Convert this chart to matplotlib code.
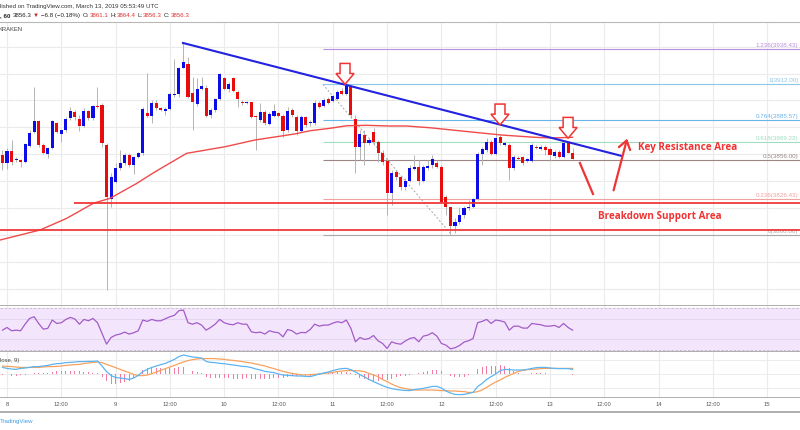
import numpy as np
import matplotlib
matplotlib.use('Agg')
import matplotlib.pyplot as plt
from matplotlib.patches import Polygon

plt.rcParams['font.family'] = ['Liberation Sans', 'DejaVu Sans']

# hourly candles, hour index from Mar 8 00:00 (XBTUSD, Kraken, 60)
hours = np.arange(-1, 126)
opens = [3859.5, 3853.7, 3862.7, 3855.7, 3855.7, 3854.3, 3866.4, 3876.8, 3884.7, 3866.7,
         3860.0, 3864.9, 3883.0, 3875.1, 3878.0, 3886.7, 3891.4, 3886.2, 3881.2, 3892.2,
         3887.2, 3895.9, 3896.6, 3867.1, 3826.8, 3839.6, 3849.6, 3853.3, 3859.5, 3852.0,
         3857.7, 3860.7, 3890.9, 3888.4, 3898.3, 3894.2, 3892.2, 3893.6, 3904.0, 3904.6,
         3924.3, 3926.9, 3905.3, 3897.1, 3908.5, 3909.0, 3889.2, 3892.9, 3901.1, 3916.5,
         3908.5, 3916.5, 3906.1, 3899.1, 3898.3, 3898.6, 3888.2, 3885.5, 3891.2, 3882.3,
         3888.7, 3890.4, 3888.7, 3878.0, 3892.9, 3887.5, 3877.5, 3887.5, 3883.0, 3883.5,
         3898.3, 3895.9, 3901.1, 3899.8, 3900.9, 3907.2, 3904.8, 3910.2, 3886.0, 3865.2,
         3874.3, 3868.6, 3876.8, 3869.3, 3861.2, 3855.2, 3831.0, 3846.6, 3842.9, 3835.5,
         3840.4, 3849.3, 3850.3, 3840.4, 3849.6, 3852.0, 3853.7, 3850.8, 3828.5, 3820.6,
         3806.7, 3809.9, 3814.9, 3819.8, 3821.0, 3826.5, 3860.2, 3863.2, 3869.3, 3860.2,
         3872.6, 3867.1, 3866.9, 3849.6, 3857.4, 3857.7, 3855.2, 3855.2, 3865.6, 3863.7,
         3865.6, 3863.7, 3858.7, 3861.9, 3858.2, 3868.2, 3861.1]
highs = [3863.2, 3864.4, 3870.6, 3858.0, 3856.7, 3868.2, 3878.0, 3910.2, 3885.5, 3868.2,
         3865.6, 3885.5, 3884.2, 3879.0, 3887.9, 3895.4, 3892.9, 3889.2, 3894.2, 3892.9,
         3896.6, 3910.2, 3897.9, 3868.2, 3845.9, 3853.3, 3863.2, 3860.7, 3860.7, 3858.7,
         3861.9, 3895.4, 3920.2, 3900.3, 3900.3, 3895.1, 3895.4, 3906.5, 3930.8, 3925.1,
         3943.0, 3932.0, 3917.6, 3916.5, 3917.6, 3911.5, 3894.2, 3901.6, 3920.2, 3917.6,
         3914.0, 3917.6, 3907.8, 3900.3, 3899.8, 3899.1, 3889.2, 3897.9, 3892.9, 3891.2,
         3897.1, 3891.6, 3889.7, 3895.4, 3894.4, 3889.2, 3889.2, 3888.4, 3885.5, 3900.3,
         3899.6, 3901.8, 3902.6, 3904.0, 3907.8, 3909.3, 3912.0, 3911.5, 3889.2, 3878.0,
         3878.0, 3872.1, 3879.5, 3870.6, 3863.2, 3857.2, 3848.3, 3848.3, 3844.6, 3842.4,
         3852.0, 3859.5, 3855.7, 3852.0, 3855.7, 3859.5, 3855.7, 3852.0, 3829.7, 3821.0,
         3812.6, 3821.0, 3821.6, 3826.0, 3827.5, 3861.7, 3865.6, 3871.9, 3870.6, 3880.5,
         3874.3, 3869.1, 3868.2, 3859.5, 3858.7, 3858.7, 3857.2, 3868.2, 3866.9, 3866.9,
         3866.9, 3865.6, 3863.2, 3863.2, 3869.3, 3869.3, 3864.4]
lows = [3848.3, 3848.8, 3852.0, 3854.3, 3850.8, 3853.3, 3865.6, 3875.6, 3865.6, 3860.2,
        3857.0, 3864.1, 3875.6, 3869.3, 3876.8, 3885.5, 3885.5, 3877.5, 3880.5, 3885.5,
        3885.5, 3894.2, 3865.6, 3759.1, 3821.0, 3838.4, 3848.3, 3852.0, 3850.8, 3845.3,
        3857.0, 3859.5, 3887.9, 3883.0, 3892.9, 3892.2, 3889.2, 3892.9, 3902.8, 3902.8,
        3923.9, 3901.6, 3878.0, 3896.1, 3907.8, 3887.9, 3886.7, 3891.6, 3900.3, 3907.8,
        3906.0, 3906.3, 3895.4, 3896.6, 3897.6, 3887.2, 3863.2, 3884.2, 3881.8, 3881.8,
        3887.9, 3887.9, 3873.1, 3876.8, 3887.5, 3874.3, 3876.5, 3880.3, 3881.0, 3881.8,
        3894.4, 3895.1, 3897.4, 3898.8, 3900.3, 3904.0, 3904.0, 3887.0, 3846.1, 3855.7,
        3852.0, 3866.9, 3866.9, 3854.3, 3852.0, 3814.9, 3822.3, 3840.9, 3833.4, 3833.4,
        3839.4, 3848.3, 3837.2, 3839.4, 3848.3, 3849.8, 3849.8, 3823.8, 3814.9, 3800.0,
        3801.3, 3808.2, 3812.6, 3818.6, 3820.0, 3826.0, 3852.0, 3861.9, 3859.5, 3859.5,
        3866.9, 3866.1, 3840.9, 3848.3, 3855.7, 3852.0, 3854.3, 3854.5, 3863.9, 3863.2,
        3859.5, 3855.2, 3857.2, 3857.2, 3857.2, 3860.7, 3856.3]
closes = [3853.3, 3862.7, 3854.0, 3856.7, 3854.3, 3867.4, 3876.0, 3884.7, 3866.9, 3860.7,
          3864.9, 3884.7, 3876.5, 3878.0, 3886.0, 3892.2, 3887.9, 3881.0, 3892.2, 3887.0,
          3895.9, 3895.1, 3868.6, 3828.5, 3843.3, 3850.0, 3853.3, 3859.5, 3852.0, 3857.7,
          3860.7, 3893.4, 3888.4, 3897.9, 3894.2, 3892.9, 3893.6, 3904.6, 3904.8, 3923.9,
          3928.4, 3902.8, 3899.1, 3908.5, 3911.0, 3888.7, 3892.9, 3900.9, 3919.7, 3908.5,
          3912.0, 3907.0, 3901.1, 3898.3, 3898.8, 3887.9, 3887.5, 3891.6, 3883.0, 3889.7,
          3892.2, 3888.7, 3877.3, 3892.4, 3889.2, 3877.5, 3887.5, 3881.8, 3884.2, 3898.3,
          3895.4, 3900.3, 3898.3, 3903.3, 3906.5, 3904.8, 3910.7, 3889.2, 3865.2, 3875.1,
          3868.6, 3870.6, 3869.3, 3861.2, 3854.5, 3831.0, 3845.9, 3842.9, 3835.9, 3840.4,
          3849.6, 3850.3, 3840.4, 3850.3, 3851.3, 3856.3, 3850.8, 3824.7, 3820.6, 3806.7,
          3809.9, 3814.9, 3819.8, 3821.0, 3826.5, 3860.2, 3863.7, 3869.3, 3860.2, 3871.9,
          3868.2, 3868.2, 3849.6, 3858.2, 3856.7, 3853.7, 3856.3, 3866.9, 3864.9, 3865.6,
          3863.2, 3859.5, 3861.9, 3858.2, 3868.2, 3861.2, 3856.3]

# moving average
ma_hours = [-1.5, 7.3, 13.2, 19.1, 22.8, 28.7, 31.6, 33.4, 39.7, 48.2, 54.8, 63.6,
            67.0, 71.4, 75.1, 79.5, 84.6, 88.3, 93.5, 101.9, 109.3, 116.7, 120.4, 125.0]
ma_values = [3796.3, 3803.7, 3812.4, 3823.6, 3827.3, 3838.4, 3844.6, 3848.3, 3860.7,
             3865.6, 3870.6, 3875.1, 3877.5, 3879.3, 3881.2, 3881.5, 3881.0, 3881.0,
             3879.7, 3876.8, 3874.3, 3872.6, 3872.1, 3872.6]

rsi = [48.8, 51.4, 48.2, 48.8, 48.2, 54.6, 60.2, 61.8, 55.3, 49.8, 50.5, 58.6, 55.3, 56.0,
       59.2, 61.2, 59.6, 54.6, 59.2, 57.9, 60.2, 56.0, 45.6, 35.2, 41.7, 44.0, 45.0, 46.9,
       45.0, 46.3, 48.2, 58.6, 57.3, 59.2, 57.9, 57.9, 59.9, 61.8, 63.2, 67.7, 68.3, 56.0,
       54.6, 56.0, 53.7, 48.8, 51.4, 54.6, 59.2, 56.0, 54.6, 54.0, 56.0, 54.6, 54.6, 47.2,
       46.3, 46.9, 45.0, 48.2, 46.9, 46.3, 42.3, 49.4, 48.2, 45.0, 46.6, 46.3, 49.4, 54.6,
       52.7, 53.7, 53.7, 55.6, 57.0, 56.0, 58.6, 50.5, 37.5, 41.7, 39.8, 40.7, 43.6, 38.5,
       35.9, 31.0, 37.5, 35.9, 35.2, 38.2, 40.7, 41.7, 37.5, 43.0, 44.0, 46.3, 43.0, 35.9,
       34.3, 30.7, 31.7, 33.9, 37.2, 38.5, 40.7, 56.0, 57.3, 59.2, 55.3, 58.6, 57.9, 56.6,
       48.8, 52.7, 52.7, 50.8, 50.8, 55.3, 54.6, 54.0, 52.7, 52.7, 53.4, 51.4, 55.3, 51.4,
       48.8]

macd = [3.3, 2.8, 2.5, 2.3, 2.8, 3.0, 3.3, 3.7, 3.7, 4.0, 4.3, 4.8, 5.2, 5.3, 5.7, 5.8,
        6.0, 6.2, 6.2, 6.3, 6.3, 6.5, 4.0, 1.2, -0.8, -1.7, -2.0, -2.3, -2.7, -2.0, -0.7,
        1.2, 2.3, 3.3, 4.0, 4.7, 5.3, 6.3, 7.3, 8.7, 9.5, 9.0, 8.5, 8.3, 8.0, 6.3, 5.8, 5.7,
        5.3, 5.2, 4.8, 4.5, 4.2, 3.8, 3.7, 3.2, 2.5, 2.0, 1.3, 1.0, 0.7, 0.0, -0.5, -0.7,
        -0.8, -1.0, -1.0, -1.2, -1.3, -0.7, 0.0, 0.5, 1.0, 1.7, 2.3, 2.7, 2.8, 2.2, 1.0,
        -0.3, -1.5, -2.7, -3.8, -4.8, -5.8, -6.7, -7.3, -7.7, -8.0, -8.2, -8.3, -7.8, -7.5,
        -7.2, -6.7, -6.2, -6.2, -7.0, -8.5, -9.5, -10.2, -10.3, -10.2, -9.7, -9.2, -6.3,
        -4.7, -2.7, -1.3, 0.0, 1.7, 2.3, 2.2, 2.0, 2.0, 2.0, 2.3, 2.8, 3.2, 3.3, 3.3, 3.0,
        2.8, 2.7, 2.7, 2.7, 2.3]
signal = [4.0, 3.8, 3.7, 3.5, 3.3, 3.3, 3.3, 3.3, 3.3, 3.5, 3.7, 3.7, 3.8, 4.0, 4.3, 4.5,
          4.7, 4.8, 5.2, 5.5, 5.8, 6.0, 5.7, 4.8, 4.0, 3.2, 2.3, 1.5, 0.7, -0.2, -0.8, -0.8,
          -0.5, 0.2, 1.0, 1.8, 2.7, 3.5, 4.3, 5.2, 6.0, 6.7, 7.2, 7.5, 7.7, 7.7, 7.7, 7.7,
          7.5, 7.3, 7.0, 6.8, 6.5, 6.2, 5.8, 5.5, 5.0, 4.5, 4.0, 3.3, 2.7, 2.0, 1.3, 0.8,
          0.3, 0.0, -0.5, -0.5, -0.3, -0.2, 0.0, 0.3, 0.5, 0.8, 1.2, 1.5, 1.7, 1.7, 1.7, 1.5,
          1.2, 0.3, -0.5, -1.3, -2.8, -3.8, -5.0, -6.0, -6.8, -7.3, -7.7, -8.0, -8.0, -8.0,
          -8.0, -8.0, -8.2, -8.3, -8.3, -8.5, -8.5, -8.7, -8.8, -9.2, -9.2, -8.8, -8.0, -6.7,
          -5.3, -4.0, -3.0, -1.7, -0.7, 0.3, 1.3, 1.8, 2.2, 2.3, 2.5, 2.7, 2.8, 2.8, 2.8,
          2.8, 2.8, 2.8, 2.8]

tick_hours = [0, 12, 24, 36, 48, 60, 72, 84, 96, 108, 120, 132, 144, 156, 168]
tick_labels = ['8', '12:00', '9', '12:00', '10', '12:00', '11', '12:00', '12',
               '12:00', '13', '12:00', '14', '12:00', '15']

fib_low, fib_high = 3800.0, 3912.0
fib_levels = [1.236, 1, 0.764, 0.618, 0.5, 0.236, 0]
fib_colors = ['#bb8fe0', '#8cc8e8', '#6ab4ec', '#9fdcc0', '#9b8585', '#f2a0a0', '#a8a8a8']
fib_start = 69.8

trend_hours = [38.9, 135.9]
trend_prices = [3942.7, 3858.7]
support_levels = [3823.6, 3803.7]
support_starts = [14.8, None]

marker_hours = [74.7, 108.95, 124.0]      # hollow down arrows, tip positions
marker_tips = [3912.0, 3881.8, 3871.9]

header_pieces = [', 60', '3856.3', '\u25bc', '\u22126.8 (\u22120.18%)', 'O:', '3861.1',
                 'H:', '3864.4', 'L:', '3856.3', 'C:', '3856.3']
piece_colors = ['#222222', '#222222', '#c62828', '#222222', '#222222', '#e03030',
                '#222222', '#e03030', '#222222', '#e03030', '#222222', '#e03030']
piece_gaps = [0, 2.0, 2.0, 2.0, 2.0, 0.4, 2.0, 0.4, 2.0, 0.4, 2.0, 0.4]   # pixels

XMIN, XMAX = -1.547, 175.25
RED = '#f03333'
W, H = 800, 430

fig = plt.figure(figsize=(8, 4.3), dpi=100)
ax = fig.add_axes([0, 0.2895, 1, 0.66])
ax_rsi = fig.add_axes([0, 0.1821, 1, 0.1074])
ax_macd = fig.add_axes([0, 0.0737, 1, 0.1084])
ax_time = fig.add_axes([0, 0.0426, 1, 0.0311])

for a in (ax, ax_rsi, ax_macd, ax_time):
    a.set_xlim(XMIN, XMAX)
    a.set_xticks([])
    a.set_yticks([])
    for sp in a.spines.values():
        sp.set_visible(False)
    a.spines['bottom'].set_visible(True)
    a.spines['bottom'].set_color('#a8a8a8')
    a.spines['bottom'].set_linewidth(1.3)
ax.spines['top'].set_visible(True)
ax.spines['top'].set_color('#b8b8b8')
ax.spines['top'].set_linewidth(0.8)

ax.set_ylim(3747.6, 3958.5)
ax_rsi.set_ylim(27.9, 72.7)
ax_macd.set_ylim(-12.15, 11.15)

for a in (ax, ax_rsi, ax_macd):
    for th in tick_hours:
        a.axvline(th, color='#ebebeb', lw=0.8, zorder=0)
for p in range(3760, 3960, 20):
    ax.axhline(p, color='#ebebeb', lw=0.8, zorder=0)

# candles
o = np.array(opens); h = np.array(highs); l = np.array(lows); c = np.array(closes)
cols = np.where(c >= o, '#0c0ce8', '#e80c0c')
ax.vlines(hours, l, h, color='#b4b4b4', lw=0.7, zorder=2)
ax.bar(hours, np.maximum(np.abs(c - o), 0.6), bottom=np.minimum(o, c), width=0.68,
       color=cols, linewidth=0, zorder=3)

ax.plot(ma_hours, ma_values, color='#f04a4a', lw=1.0, zorder=4)

# fib retracement
for lvl, col in zip(fib_levels, fib_colors):
    price = fib_low + lvl * (fib_high - fib_low)
    ax.hlines(price, fib_start, XMAX, color=col, lw=0.8, zorder=1)
    ax.text(174.9, price + 0.8, f'{lvl:g}({price:.2f})', color=col, fontsize=4.5,
            ha='right', va='bottom', clip_on=False)
ax.plot([fib_start, 98.3], [fib_high, fib_low], color='#a8a8a8', lw=0.7,
        ls=(0, (2, 2)), zorder=1)

ax.plot(trend_hours, trend_prices, color='#2222e0', lw=1.5, zorder=5)
for lev, st in zip(support_levels, support_starts):
    ax.hlines(lev, XMIN if st is None else st, XMAX, color=RED, lw=1.4, alpha=0.9, zorder=4)

for mh, mt in zip(marker_hours, marker_tips):
    pts = [(mh - 1.1, mt + 15.5), (mh + 1.1, mt + 15.5), (mh + 1.1, mt + 8),
           (mh + 2.0, mt + 8), (mh, mt), (mh - 2.0, mt + 8), (mh - 1.1, mt + 8)]
    ax.add_patch(Polygon(pts, closed=True, facecolor='white', edgecolor=RED, lw=1.1,
                         zorder=6))

ax.plot([126.6, 129.5], [3853.5, 3830.5], color=RED, lw=1.6, zorder=6)
ax.annotate('', xy=(137.2, 3873.6), xytext=(133.9, 3831.2),
            arrowprops=dict(arrowstyle='->,head_length=0.5,head_width=0.35',
                            color=RED, lw=1.6, mutation_scale=12), zorder=6)
ax.text(139.4, 3864.7, 'Key Resistance Area', color=RED, fontsize=7.1,
        fontweight='bold', family=['Open Sans', 'DejaVu Sans'], va='center', ha='left')
ax.text(130.6, 3814.1, 'Breakdown Support Area', color=RED, fontsize=7.1,
        fontweight='bold', family=['Open Sans', 'DejaVu Sans'], va='center', ha='left')

# RSI pane
ax_rsi.axhspan(30, 70, color='#f3e6fc', zorder=0)
for lv in (30, 70):
    ax_rsi.axhline(lv, color='#c4b8cc', lw=0.6, ls=(0, (3, 2)), zorder=1)
for lv in (40, 60):
    ax_rsi.axhline(lv, color='#e2d6ec', lw=0.7, zorder=1)
ax_rsi.plot(hours, rsi, color='#a35bc8', lw=0.9, zorder=3)

# MACD pane
m = np.array(macd); s = np.array(signal)
for lv in (-7, 0, 7):
    ax_macd.axhline(lv, color='#ececec', lw=0.7, zorder=0)
ax_macd.bar(hours, m - s, width=0.22, color='#f27ba0', linewidth=0, zorder=2)
ax_macd.plot(hours, s, color='#f7a25e', lw=0.9, zorder=3)
ax_macd.plot(hours, m, color='#5db4f2', lw=0.9, zorder=4)
ax_macd.text(0.0, 0.82, 'lose, 9)', transform=ax_macd.transAxes, fontsize=4.2,
             color='#444444', ha='left', va='center')

# time axis
for th, lab in zip(tick_hours, tick_labels):
    ax_time.text(th, 0.5, lab, transform=ax_time.get_xaxis_transform(), fontsize=4.2,
                 color='#555555', ha='center', va='center')

# header
fig.text(0.0, 0.986, 'lished on TradingView.com, March 13, 2019 05:53:49 UTC',
         fontsize=4.4, color='#333333', ha='left', va='center')
fig.canvas.draw()
renderer = fig.canvas.get_renderer()
xpos = 0.0
for i, (txt, col, gp) in enumerate(zip(header_pieces, piece_colors, piece_gaps)):
    t = fig.text((xpos + gp) / W, 1 - 15.5 / H, txt, fontsize=4.4, color=col,
                 fontweight='bold' if i == 0 else 'normal', ha='left', va='center')
    xpos = t.get_window_extent(renderer).x1
fig.text(-0.002, 0.932, 'KRAKEN', fontsize=4.2, color='#444444', ha='left', va='center')
fig.text(0.0, 0.019, 'TradingView', fontsize=4.4, color='#3d9fe6', ha='left', va='center')

fig.savefig('out.png', dpi=100)
